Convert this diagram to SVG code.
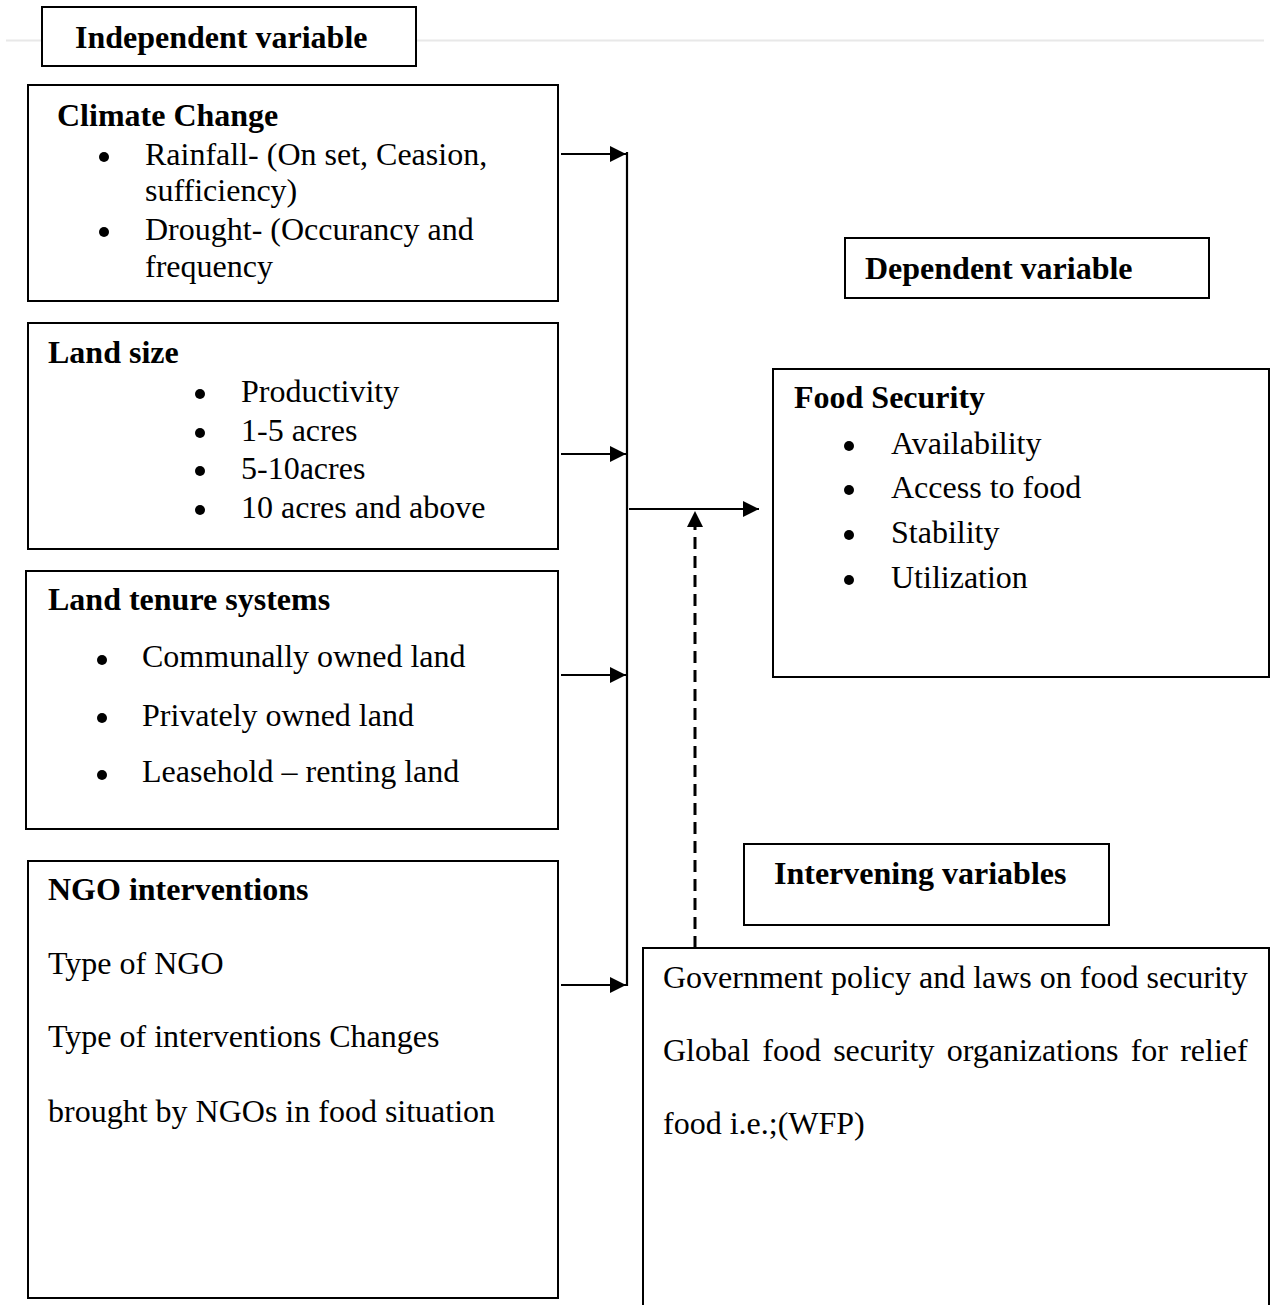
<svg xmlns="http://www.w3.org/2000/svg" width="1270" height="1305" viewBox="0 0 1270 1305">
<style>
.box{fill:#fff;stroke:#000;stroke-width:2}
.t{font-family:"Liberation Serif","Times New Roman",serif;font-size:32px;fill:#000}
.b{font-weight:bold}
.bul{fill:#000}
.con{stroke:#000;stroke-width:2.2;fill:none}
.dash{stroke-width:3;stroke-dasharray:12 7}
</style>
<defs>
<marker id="ah" markerUnits="userSpaceOnUse" markerWidth="17" markerHeight="16" refX="16" refY="8" orient="auto">
<path d="M0,0 L16,8 L0,16 z" fill="#000"/>
</marker>
</defs>
<rect x="0" y="0" width="1270" height="1305" fill="#fff"/>
<line x1="6" y1="40.5" x2="1264" y2="40.5" stroke="#e8e8e8" stroke-width="2"/>

<g id="independent">
<rect class="box" x="42" y="7" width="374" height="59"/>
<text class="t b" x="75" y="48">Independent variable</text>
</g>

<g id="climate">
<rect class="box" x="28" y="85" width="530" height="216"/>
<text class="t b" x="57" y="126">Climate Change</text>
<circle class="bul" cx="104" cy="157" r="5"/>
<text class="t" x="145" y="165">Rainfall- (On set, Ceasion,</text>
<text class="t" x="145" y="201">sufficiency)</text>
<circle class="bul" cx="104" cy="232" r="5"/>
<text class="t" x="145" y="240">Drought- (Occurancy and</text>
<text class="t" x="145" y="277">frequency</text>
</g>

<g id="landsize">
<rect class="box" x="28" y="323" width="530" height="226"/>
<text class="t b" x="48" y="363">Land size</text>
<circle class="bul" cx="200" cy="394" r="5"/>
<text class="t" x="241" y="402">Productivity</text>
<circle class="bul" cx="200" cy="433" r="5"/>
<text class="t" x="241" y="441">1-5 acres</text>
<circle class="bul" cx="200" cy="471" r="5"/>
<text class="t" x="241" y="479">5-10acres</text>
<circle class="bul" cx="200" cy="510" r="5"/>
<text class="t" x="241" y="518">10 acres and above</text>
</g>

<g id="tenure">
<rect class="box" x="26" y="571" width="532" height="258"/>
<text class="t b" x="48" y="610">Land tenure systems</text>
<circle class="bul" cx="102" cy="660" r="5"/>
<text class="t" x="142" y="667">Communally owned land</text>
<circle class="bul" cx="102" cy="718" r="5"/>
<text class="t" x="142" y="726">Privately owned land</text>
<circle class="bul" cx="102" cy="775" r="5"/>
<text class="t" x="142" y="782">Leasehold – renting land</text>
</g>

<g id="ngo">
<rect class="box" x="28" y="861" width="530" height="437"/>
<text class="t b" x="48" y="900">NGO interventions</text>
<text class="t" x="48" y="974">Type of NGO</text>
<text class="t" x="48" y="1047">Type of interventions Changes</text>
<text class="t" x="48" y="1122">brought by NGOs in food situation</text>
</g>

<g id="dependent">
<rect class="box" x="845" y="238" width="364" height="60"/>
<text class="t b" x="865" y="279">Dependent variable</text>
</g>

<g id="foodsecurity">
<rect class="box" x="773" y="369" width="496" height="308"/>
<text class="t b" x="794" y="408">Food Security</text>
<circle class="bul" cx="849" cy="446" r="5"/>
<text class="t" x="891" y="454">Availability</text>
<circle class="bul" cx="849" cy="490" r="5"/>
<text class="t" x="891" y="498">Access to food</text>
<circle class="bul" cx="849" cy="535" r="5"/>
<text class="t" x="891" y="543">Stability</text>
<circle class="bul" cx="849" cy="580" r="5"/>
<text class="t" x="891" y="588">Utilization</text>
</g>

<g id="intervening">
<rect class="box" x="744" y="844" width="365" height="81"/>
<text class="t b" x="774" y="884">Intervening variables</text>
</g>

<g id="government">
<path class="box" d="M643,1310 V948 H1269 V1310"/>
<text class="t" x="663" y="988">Government policy and laws on food security</text>
<text class="t" x="663" y="1061" word-spacing="4.2">Global food security organizations for relief</text>
<text class="t" x="663" y="1134">food i.e.;(WFP)</text>
</g>

<g id="connectors">
<line class="con" x1="627" y1="152" x2="627" y2="986"/>
<line class="con" x1="561" y1="154" x2="626" y2="154" marker-end="url(#ah)"/>
<line class="con" x1="561" y1="454" x2="626" y2="454" marker-end="url(#ah)"/>
<line class="con" x1="561" y1="675" x2="626" y2="675" marker-end="url(#ah)"/>
<line class="con" x1="561" y1="985" x2="626" y2="985" marker-end="url(#ah)"/>
<line class="con" x1="629" y1="509" x2="759" y2="509" marker-end="url(#ah)"/>
<line class="con dash" x1="695" y1="948" x2="695" y2="511" marker-end="url(#ah)"/>
</g>
</svg>
